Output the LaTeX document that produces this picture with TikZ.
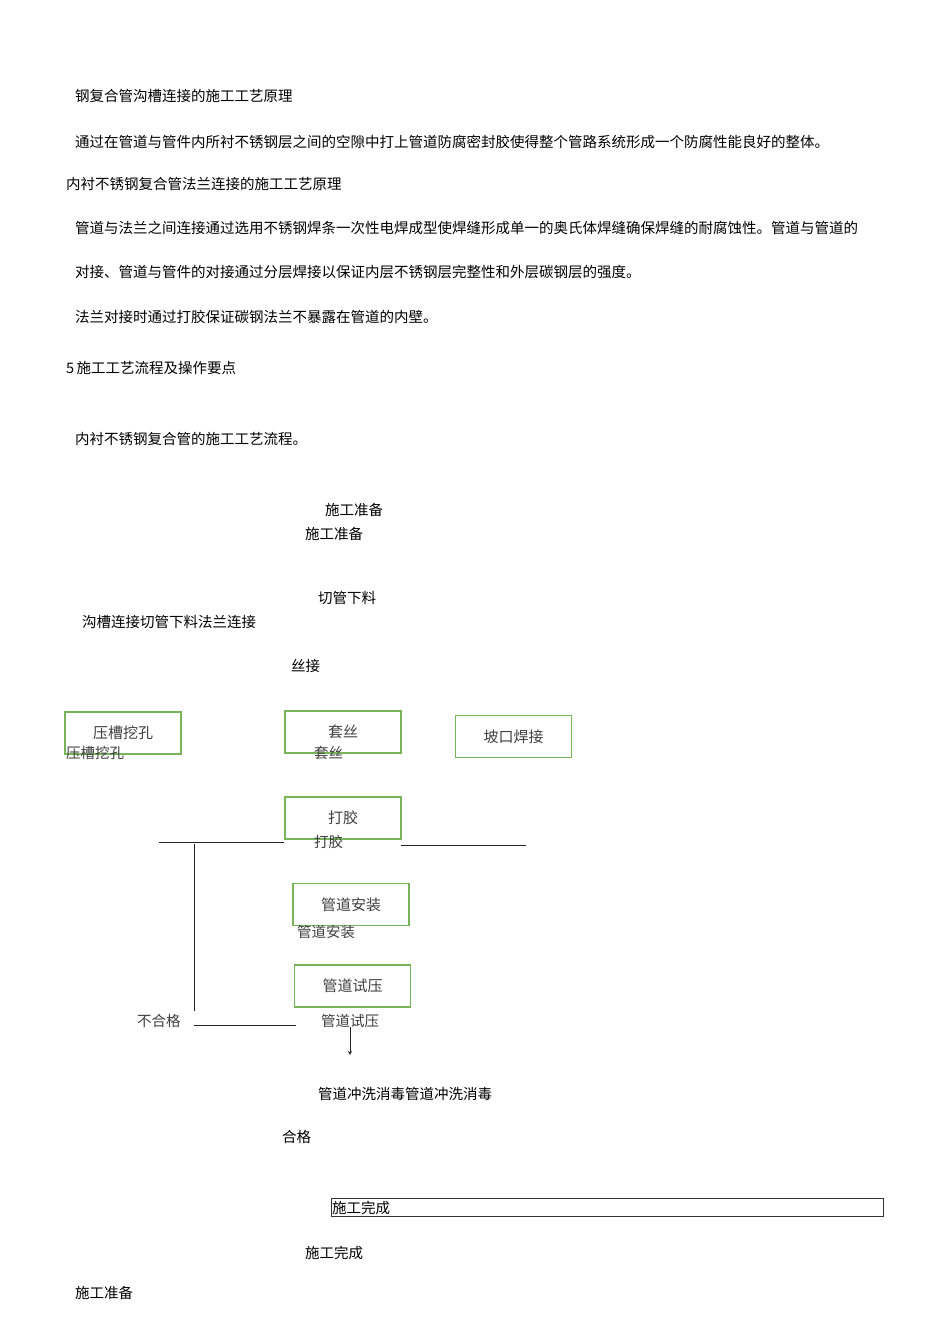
\documentclass[tikz,border=0pt]{standalone}
\usepackage{fontspec}
\newfontfamily\cjk{Noto Sans CJK SC}
\definecolor{bgreen}{RGB}{120,180,90}
\begin{document}
\begin{tikzpicture}[x=1pt,y=-1pt,
 t/.style={anchor=west,inner sep=0pt,font=\cjk\fontsize{14.5}{16}\selectfont},
 gbox/.style={draw=bgreen,line width=1.1pt,minimum width=116pt,minimum height=42pt,inner sep=0pt,font=\cjk\fontsize{15}{16}\selectfont,text=black!75},
 ln/.style={draw=black!85,line width=0.8pt}]
\useasboundingbox[fill=white] (0,0) rectangle (950,1344);
\node[t] (a1) at (75,96) {钢复合管沟槽连接的施工工艺原理};
\node[t] (a2) at (75,142) {通过在管道与管件内所衬不锈钢层之间的空隙中打上管道防腐密封胶使得整个管路系统形成一个防腐性能良好的整体。};
\node[t] (a3) at (66,184) {内衬不锈钢复合管法兰连接的施工工艺原理};
\node[t] (a4) at (75,228) {管道与法兰之间连接通过选用不锈钢焊条一次性电焊成型使焊缝形成单一的奥氏体焊缝确保焊缝的耐腐蚀性。管道与管道的};
\node[t] (a5) at (75,272) {对接、管道与管件的对接通过分层焊接以保证内层不锈钢层完整性和外层碳钢层的强度。};
\node[t] (a6) at (75,317) {法兰对接时通过打胶保证碳钢法兰不暴露在管道的内壁。};
\node[t] (a7) at (66,368) {5\,施工工艺流程及操作要点};
\node[t] (a8) at (75,439) {内衬不锈钢复合管的施工工艺流程。};
\node[t] (b1) at (325,510) {施工准备};
\node[t] (b2) at (305,534) {施工准备};
\node[t] (b3) at (318,598) {切管下料};
\node[t] (b4) at (82,622) {沟槽连接切管下料法兰连接};
\node[t] (b5) at (291,666) {丝接};
\node[gbox,minimum width=116pt] (g1) at (123,733) {压槽挖孔};
\node[gbox] (g2) at (343,732) {套丝};
\node[gbox,line width=1.4pt] (g3) at (513.5,736.5) {坡口焊接};
\node[gbox] (g4) at (343,818) {打胶};
\node[gbox,line width=1.4pt] (g5) at (351,904.5) {管道安装};
\node[gbox] (g6) at (352.5,986) {管道试压};
\node[t,text=black!75] (c1) at (66,753) {压槽挖孔};
\node[t,text=black!75] (c2) at (314,753) {套丝};
\node[t,text=black!75] (c4) at (314,842) {打胶};
\node[t,text=black!75] (c5) at (297,932) {管道安装};
\node[t,text=black!75] (c6) at (321,1021) {管道试压};
\node[t,text=black!75] (nq) at (137,1021) {不合格};
\coordinate (l1) at (159,842); \coordinate (l2) at (284,842);
\coordinate (r1) at (401,845); \coordinate (r2) at (526,845);
\coordinate (v1) at (194,844); \coordinate (v2) at (194,1011);
\coordinate (h1) at (194,1025); \coordinate (h2) at (296,1025);
\coordinate (ar1) at (350,1027); \coordinate (ar2) at (350,1055);
\draw[ln] (l1) -- (l2); \draw[ln] (r1) -- (r2);
\draw[ln] (v1) -- (v2); \draw[ln] (h1) -- (h2);
\draw[ln,->,>=stealth] (ar1) -- (ar2);
\node[t] (d1) at (318,1094) {管道冲洗消毒管道冲洗消毒};
\node[t] (d2) at (282,1137) {合格};
\node[draw=black!80,line width=0.8pt,minimum width=552pt,minimum height=18pt,inner sep=0pt] (fb) at (607,1207) {};
\node[t] (d3) at (332,1208) {施工完成};
\node[t] (d4) at (305,1253) {施工完成};
\node[t] (d5) at (75,1293) {施工准备};
\end{tikzpicture}
\end{document}
